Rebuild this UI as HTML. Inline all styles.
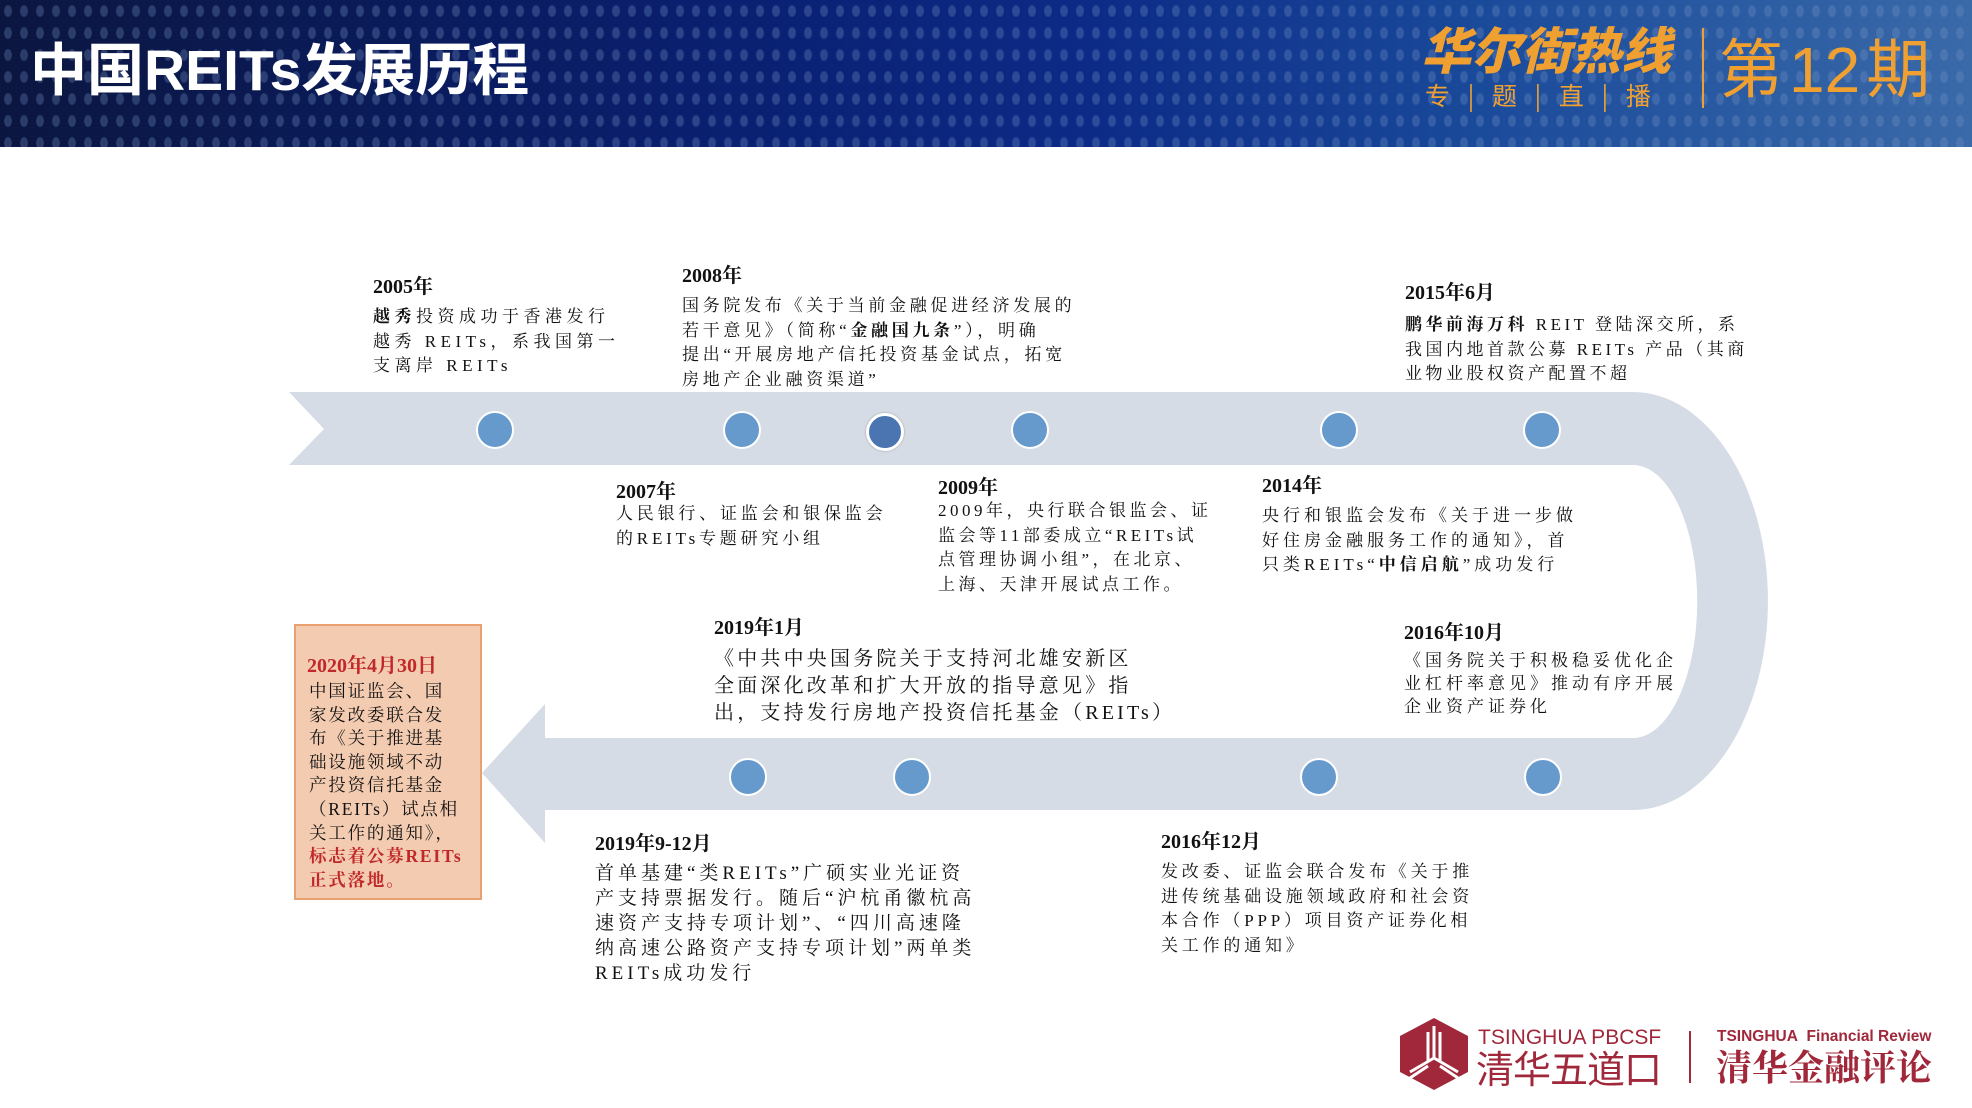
<!DOCTYPE html>
<html><head><meta charset="utf-8"><style>
body{margin:0;width:1972px;height:1108px;position:relative;overflow:hidden;background:#fff;font-family:"Liberation Serif","Noto Serif CJK SC",serif;}
.hdr{position:absolute;left:0;top:0;width:1972px;height:147px;background:linear-gradient(90deg,#0b1640 0%,#0a1f6e 35%,#0c2a86 55%,#1a4a9a 75%,#3a6aa8 100%);}
.dots{position:absolute;left:0;top:0;width:1972px;height:147px;background-image:radial-gradient(ellipse 6px 9px at center,rgba(120,150,200,0.3) 60%,transparent 70%);background-size:16px 22px;}
.t{position:absolute;white-space:nowrap;color:#111;}
.h{font-weight:bold;font-size:20px;}
.b{font-size:17px;line-height:24.5px;}
.c{position:absolute;border-radius:50%;background:#6699cc;border:2px solid #fff;}
</style></head><body>
<div class="hdr"></div><div class="dots"></div>
<div class="t" style="left:30px;top:38px;font-family:'Liberation Sans','Noto Sans CJK SC',sans-serif;font-weight:bold;font-size:57px;color:#fff;line-height:66px;letter-spacing:0px;">中国REITs发展历程</div>
<div class="t" style="left:1421px;top:22px;font-family:'Liberation Sans','Noto Sans CJK SC',sans-serif;font-weight:900;font-style:italic;font-size:50px;color:#f0a030;line-height:60px;">华尔街热线</div>
<div class="t" style="left:1425px;top:80px;font-family:'Noto Sans CJK SC',sans-serif;font-size:25px;color:#f0a030;line-height:30px;letter-spacing:6px;">专 | 题 | 直 | 播</div>
<div style="position:absolute;left:1702px;top:28px;width:2px;height:80px;background:#f0a030;"></div>
<div class="t" style="left:1719px;top:32px;font-family:'Liberation Sans','Noto Sans CJK SC',sans-serif;font-size:64px;color:#f0a030;line-height:76px;">第<span style="margin:0 6px">12</span>期</div>

<svg style="position:absolute;left:0;top:0" width="1972" height="1108">
<path d="M289 392 L1633 392 A135 209 0 0 1 1633 810 L545 810 L545 843 L482 773 L545 704 L545 738 L1633 738 A64 136 0 0 0 1633 465 L289 465 L324 429 Z" fill="#d6dce6"/>
</svg>
<div class="c" style="left:476px;top:411px;width:34px;height:34px"></div>
<div class="c" style="left:723px;top:411px;width:34px;height:34px"></div>
<div class="c" style="left:866px;top:413px;width:32px;height:32px;background:#4a75b0;border:3px solid #fff;box-shadow:0 0 2px #999"></div>
<div class="c" style="left:1011px;top:411px;width:34px;height:34px"></div>
<div class="c" style="left:1320px;top:411px;width:34px;height:34px"></div>
<div class="c" style="left:1523px;top:411px;width:34px;height:34px"></div>
<div class="c" style="left:729px;top:758px;width:34px;height:34px"></div>
<div class="c" style="left:893px;top:758px;width:34px;height:34px"></div>
<div class="c" style="left:1300px;top:758px;width:34px;height:34px"></div>
<div class="c" style="left:1524px;top:758px;width:34px;height:34px"></div>

<div class="t h" style="left:373px;top:270px">2005年</div>
<div class="t b" style="left:373px;top:305px;letter-spacing:4.5px"><b>越秀</b>投资成功于香港发行<br>越秀 REITs，系我国第一<br>支离岸 REITs</div>
<div class="t h" style="left:682px;top:259px">2008年</div>
<div class="t b" style="left:682px;top:294px;letter-spacing:3.7px">国务院发布《关于当前金融促进经济发展的<br>若干意见》（简称“<b>金融国九条</b>”），明确<br>提出“开展房地产信托投资基金试点，拓宽<br>房地产企业融资渠道”</div>
<div class="t h" style="left:1405px;top:276px">2015年6月</div>
<div class="t b" style="left:1405px;top:313px;letter-spacing:3.5px"><b>鹏华前海万科</b> REIT 登陆深交所，系<br>我国内地首款公募 REITs 产品（其商<br>业物业股权资产配置不超</div>
<div class="t h" style="left:616px;top:475px">2007年</div>
<div class="t b" style="left:616px;top:502px;letter-spacing:3.8px">人民银行、证监会和银保监会<br>的REITs专题研究小组</div>
<div class="t h" style="left:938px;top:471px">2009年</div>
<div class="t b" style="left:938px;top:499px;letter-spacing:3.5px">2009年，央行联合银监会、证<br>监会等11部委成立“REITs试<br>点管理协调小组”，在北京、<br>上海、天津开展试点工作。</div>
<div class="t h" style="left:1262px;top:469px">2014年</div>
<div class="t b" style="left:1262px;top:504px;letter-spacing:4px">央行和银监会发布《关于进一步做<br>好住房金融服务工作的通知》，首<br>只类REITs“<b>中信启航</b>”成功发行</div>
<div class="t h" style="left:1404px;top:616px">2016年10月</div>
<div class="t b" style="left:1404px;top:649px;letter-spacing:4px;line-height:23px">《国务院关于积极稳妥优化企<br>业杠杆率意见》推动有序开展<br>企业资产证券化</div>
<div class="t h" style="left:714px;top:611px">2019年1月</div>
<div class="t b" style="left:714px;top:646px;font-size:20px;line-height:27px;letter-spacing:3.2px">《中共中央国务院关于支持河北雄安新区<br>全面深化改革和扩大开放的指导意见》指<br>出，支持发行房地产投资信托基金（REITs）</div>
<div class="t h" style="left:595px;top:827px">2019年9-12月</div>
<div class="t b" style="left:595px;top:861px;font-size:19px;line-height:25px;letter-spacing:4px">首单基建“类REITs”广硕实业光证资<br>产支持票据发行。随后“沪杭甬徽杭高<br>速资产支持专项计划”、“四川高速隆<br>纳高速公路资产支持专项计划”两单类<br>REITs成功发行</div>
<div class="t h" style="left:1161px;top:825px">2016年12月</div>
<div class="t b" style="left:1161px;top:860px;letter-spacing:3.8px">发改委、证监会联合发布《关于推<br>进传统基础设施领域政府和社会资<br>本合作（PPP）项目资产证券化相<br>关工作的通知》</div>

<div style="position:absolute;left:294px;top:624px;width:184px;height:272px;background:#f3cbb0;border:2px solid #e8a070;"></div>
<div class="t h" style="left:307px;top:649px;color:#c0282a">2020年4月30日</div>
<div class="t b" style="left:309px;top:680px;font-size:17.5px;line-height:23.6px;letter-spacing:1.8px">中国证监会、国<br>家发改委联合发<br>布《关于推进基<br>础设施领域不动<br>产投资信托基金<br>（REITs）试点相<br>关工作的通知》，<br><b style="color:#c0282a">标志着公募REITs<br>正式落地。</b></div>

<svg style="position:absolute;left:1400px;top:1018px" width="68" height="72"><polygon points="34,0 68,18 68,54 34,72 0,54 0,18" fill="#a0283a"/><path d="M34 40 L34 8 M28 44 L28 14 M40 44 L40 14 M34 40 L10 54 M34 40 L58 54 M28 48 L10 60 M40 48 L58 60" stroke="#fff" stroke-width="3" fill="none"/></svg>
<div class="t" style="left:1478px;top:1026px;font-family:'Liberation Sans',sans-serif;font-size:21px;color:#a0283a;line-height:24px">TSINGHUA PBCSF</div>
<div class="t" style="left:1476px;top:1046px;font-family:'Noto Sans CJK SC',sans-serif;font-size:38px;color:#a0283a;line-height:42px;letter-spacing:-1px">清华五道口</div>
<div style="position:absolute;left:1689px;top:1031px;width:2px;height:52px;background:#a0283a"></div>
<div class="t" style="left:1717px;top:1027px;font-family:'Liberation Sans',sans-serif;font-weight:bold;font-size:15.5px;color:#a0283a;line-height:20px">TSINGHUA&nbsp; Financial Review</div>
<div class="t" style="left:1716px;top:1045px;font-family:'Noto Serif CJK SC',serif;font-weight:bold;font-size:36px;color:#a0283a;line-height:42px">清华金融评论</div>
</body></html>
